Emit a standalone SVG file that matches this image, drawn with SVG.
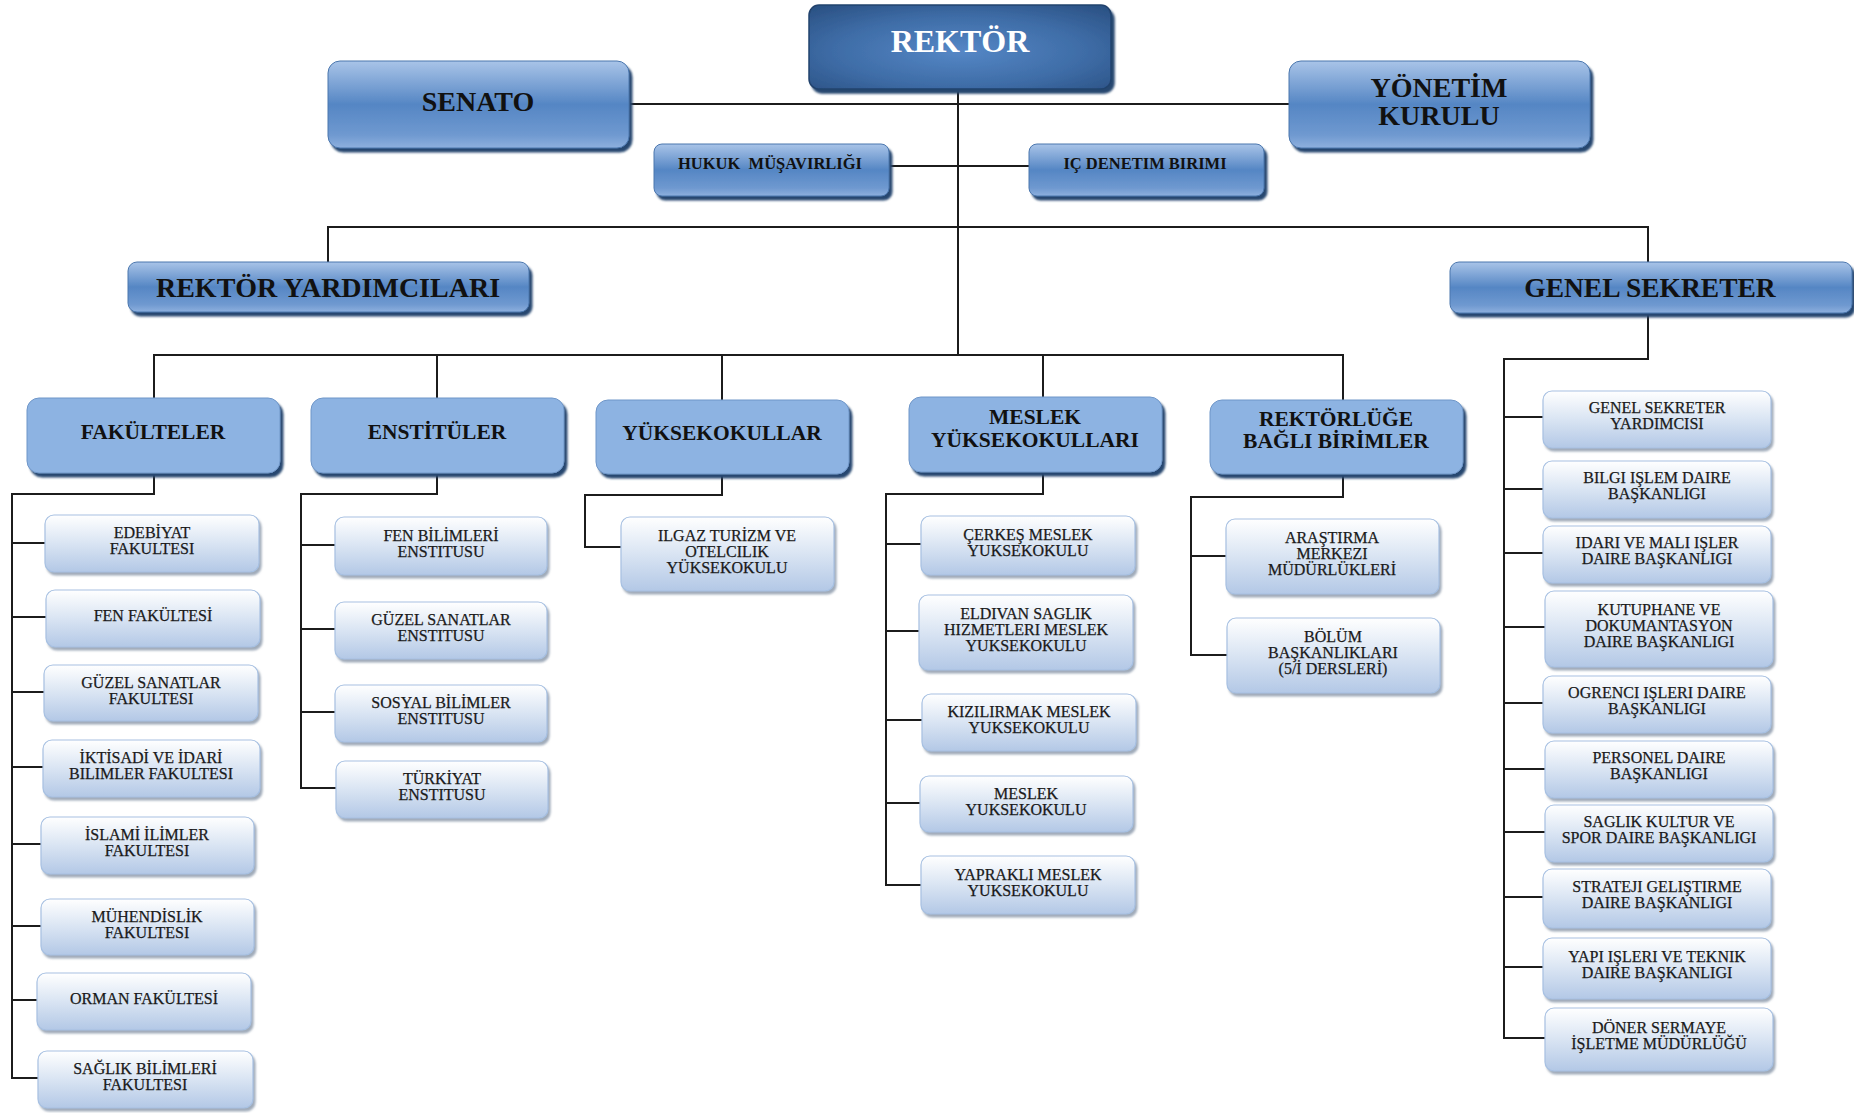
<svg xmlns="http://www.w3.org/2000/svg" width="1854" height="1113" viewBox="0 0 1854 1113">
<defs>
<radialGradient id="gDark" cx="0.5" cy="0.55" r="0.7">
<stop offset="0" stop-color="#5587c6"/>
<stop offset="0.6" stop-color="#3e6ca6"/>
<stop offset="1" stop-color="#2b5285"/>
</radialGradient>
<linearGradient id="gMid" x1="0" y1="0" x2="0" y2="1">
<stop offset="0" stop-color="#a9c4e8"/>
<stop offset="0.5" stop-color="#5586c4"/>
<stop offset="0.85" stop-color="#6f99d0"/>
<stop offset="1" stop-color="#8eb0de"/>
</linearGradient>
<linearGradient id="gLeaf" x1="0" y1="0" x2="0" y2="1">
<stop offset="0" stop-color="#ffffff"/>
<stop offset="0.45" stop-color="#dde7f4"/>
<stop offset="1" stop-color="#b3c8e6"/>
</linearGradient>
<filter id="shDark" x="-10%" y="-10%" width="120%" height="130%">
<feDropShadow dx="3" dy="4" stdDeviation="1" flood-color="#27466f" flood-opacity="1"/>
</filter>
<filter id="shLeaf" x="-10%" y="-10%" width="120%" height="130%">
<feDropShadow dx="2" dy="3" stdDeviation="1.2" flood-color="#8795a8" flood-opacity="0.8"/>
</filter>
</defs>
<style>
.conn{stroke:#1c1c1c;stroke-width:2;fill:none}
.dark rect{fill:url(#gDark);stroke:#22436d;stroke-width:1.5;filter:url(#shDark)}
.mid rect{fill:url(#gMid);stroke:#4a76ad;stroke-width:1;filter:url(#shDark)}
.head rect{fill:#8db3e2;stroke:#6f96c8;stroke-width:1;filter:url(#shDark)}
.leaf rect{fill:url(#gLeaf);stroke:#a7c0e2;stroke-width:1.2;filter:url(#shLeaf)}
text{font-family:"Liberation Serif","Times New Roman",serif;text-anchor:middle}
.dark text{fill:#ffffff;font-weight:bold;font-size:32px}
.mid text{fill:#111;font-weight:bold}
.head text{fill:#111;font-weight:bold;font-size:21.5px}
.leaf text{fill:#1a1a1a;stroke:#1a1a1a;stroke-width:0.25;font-size:16px}
.pre{white-space:pre}
</style>
<rect width="1854" height="1113" fill="#ffffff"/>
<g id="connectors">
<path class="conn" d="M629 104H1289"/>
<path class="conn" d="M958 89V355"/>
<path class="conn" d="M889 166H1029"/>
<path class="conn" d="M328 262V227H1648V262"/>
<path class="conn" d="M154 398V355H1343V400"/>
<path class="conn" d="M437 355V398M722 355V400M1043 355V397"/>
<path class="conn" d="M154 473V494H12V1078H38M12 543H45M12 617H46M12 692H44M12 767H43M12 844H41M12 926H41M12 1000H37"/>
<path class="conn" d="M437 473V494H301V788H336M301 545H335M301 629H335M301 712H335"/>
<path class="conn" d="M722 474V495H585V547H621"/>
<path class="conn" d="M1043 472V494H886V885H921M886 544H921M886 631H919M886 720H922M886 803H920"/>
<path class="conn" d="M1343 474V497H1191V655H1227M1191 556H1226"/>
<path class="conn" d="M1648 313V359H1504V1038H1545M1504 417H1543M1504 489H1543M1504 553H1543M1504 627H1545M1504 703H1543M1504 769H1545M1504 832H1545M1504 897H1543M1504 967H1543"/>
</g>
<g id="rektor" class="dark"><rect x="809" y="5" width="302" height="84" rx="10"/><text x="960" y="52">REKTÖR</text></g>
<g id="senato" class="mid"><rect x="328" y="61" width="301" height="87" rx="12"/><text x="478" y="111" font-size="28">SENATO</text></g>
<g id="yonetim" class="mid"><rect x="1289" y="61" width="301" height="87" rx="12"/><text x="1439" y="97" font-size="28">YÖNETİM</text><text x="1439" y="125" font-size="28">KURULU</text></g>
<g id="hukuk" class="mid"><rect x="654" y="144" width="235" height="52" rx="8"/><text class="pre" x="770" y="169" font-size="16.5">HUKUK  MÜŞAVIRLIĞI</text></g>
<g id="icdenetim" class="mid"><rect x="1029" y="144" width="235" height="52" rx="8"/><text x="1145" y="169" font-size="16.5">IÇ DENETIM BIRIMI</text></g>
<g id="rektor-yardimcilari" class="mid"><rect x="128" y="262" width="401" height="50" rx="9"/><text x="328" y="297" font-size="28">REKTÖR YARDIMCILARI</text></g>
<g id="genel-sekreter" class="mid"><rect x="1450" y="262" width="402" height="51" rx="9"/><text x="1650" y="297" font-size="27.5">GENEL SEKRETER</text></g>
<g id="fakulteler" class="head"><rect x="27" y="398" width="253" height="75" rx="12"/><text x="153" y="439">FAKÜLTELER</text></g>
<g id="enstituler" class="head"><rect x="311" y="398" width="253" height="75" rx="12"/><text x="437" y="439">ENSTİTÜLER</text></g>
<g id="yuksekokullar" class="head"><rect x="596" y="400" width="253" height="74" rx="12"/><text x="722" y="440">YÜKSEKOKULLAR</text></g>
<g id="meslek-yuksekokullari" class="head"><rect x="909" y="397" width="253" height="75" rx="12"/><text x="1035" y="424">MESLEK</text><text x="1035" y="447">YÜKSEKOKULLARI</text></g>
<g id="rektorluge-bagli" class="head"><rect x="1210" y="400" width="253" height="74" rx="12"/><text x="1336" y="426">REKTÖRLÜĞE</text><text x="1336" y="448">BAĞLI BİRİMLER</text></g>
<g id="f1" class="leaf"><rect x="45" y="515" width="214" height="57" rx="9"/><text x="152" y="538">EDEBİYAT</text><text x="152" y="554">FAKULTESI</text></g>
<g id="f2" class="leaf"><rect x="46" y="590" width="214" height="57" rx="9"/><text x="153" y="621">FEN FAKÜLTESİ</text></g>
<g id="f3" class="leaf"><rect x="44" y="665" width="214" height="56" rx="9"/><text x="151" y="688">GÜZEL SANATLAR</text><text x="151" y="704">FAKULTESI</text></g>
<g id="f4" class="leaf"><rect x="43" y="740" width="217" height="57" rx="9"/><text x="151" y="763">İKTİSADİ VE İDARİ</text><text x="151" y="779">BILIMLER FAKULTESI</text></g>
<g id="f5" class="leaf"><rect x="41" y="817" width="213" height="57" rx="9"/><text x="147" y="840">İSLAMİ İLİMLER</text><text x="147" y="856">FAKULTESI</text></g>
<g id="f6" class="leaf"><rect x="41" y="899" width="213" height="56" rx="9"/><text x="147" y="922">MÜHENDİSLİK</text><text x="147" y="938">FAKULTESI</text></g>
<g id="f7" class="leaf"><rect x="37" y="973" width="214" height="57" rx="9"/><text x="144" y="1004">ORMAN FAKÜLTESİ</text></g>
<g id="f8" class="leaf"><rect x="38" y="1051" width="215" height="57" rx="9"/><text x="145" y="1074">SAĞLIK BİLİMLERİ</text><text x="145" y="1090">FAKULTESI</text></g>
<g id="e1" class="leaf"><rect x="335" y="517" width="212" height="58" rx="9"/><text x="441" y="541">FEN BİLİMLERİ</text><text x="441" y="557">ENSTITUSU</text></g>
<g id="e2" class="leaf"><rect x="335" y="602" width="212" height="57" rx="9"/><text x="441" y="625">GÜZEL SANATLAR</text><text x="441" y="641">ENSTITUSU</text></g>
<g id="e3" class="leaf"><rect x="335" y="685" width="212" height="57" rx="9"/><text x="441" y="708">SOSYAL BİLİMLER</text><text x="441" y="724">ENSTITUSU</text></g>
<g id="e4" class="leaf"><rect x="336" y="761" width="212" height="57" rx="9"/><text x="442" y="784">TÜRKİYAT</text><text x="442" y="800">ENSTITUSU</text></g>
<g id="y1" class="leaf"><rect x="621" y="517" width="213" height="74" rx="9"/><text x="727" y="541">ILGAZ TURİZM VE</text><text x="727" y="557">OTELCILIK</text><text x="727" y="573">YÜKSEKOKULU</text></g>
<g id="m1" class="leaf"><rect x="921" y="516" width="214" height="59" rx="9"/><text x="1028" y="540">ÇERKEŞ MESLEK</text><text x="1028" y="556">YUKSEKOKULU</text></g>
<g id="m2" class="leaf"><rect x="919" y="595" width="214" height="75" rx="9"/><text x="1026" y="619">ELDIVAN SAGLIK</text><text x="1026" y="635">HIZMETLERI MESLEK</text><text x="1026" y="651">YUKSEKOKULU</text></g>
<g id="m3" class="leaf"><rect x="922" y="694" width="214" height="57" rx="9"/><text x="1029" y="717">KIZILIRMAK MESLEK</text><text x="1029" y="733">YUKSEKOKULU</text></g>
<g id="m4" class="leaf"><rect x="920" y="776" width="213" height="56" rx="9"/><text x="1026" y="799">MESLEK</text><text x="1026" y="815">YUKSEKOKULU</text></g>
<g id="m5" class="leaf"><rect x="921" y="856" width="214" height="58" rx="9"/><text x="1028" y="880">YAPRAKLI MESLEK</text><text x="1028" y="896">YUKSEKOKULU</text></g>
<g id="r1" class="leaf"><rect x="1226" y="519" width="213" height="75" rx="9"/><text x="1332" y="543">ARAŞTIRMA</text><text x="1332" y="559">MERKEZI</text><text x="1332" y="575">MÜDÜRLÜKLERİ</text></g>
<g id="r2" class="leaf"><rect x="1227" y="618" width="213" height="75" rx="9"/><text x="1333" y="642">BÖLÜM</text><text x="1333" y="658">BAŞKANLIKLARI</text><text x="1333" y="674">(5/İ DERSLERİ)</text></g>
<g id="g1" class="leaf"><rect x="1543" y="391" width="228" height="57" rx="9"/><text x="1657" y="413">GENEL SEKRETER</text><text x="1657" y="429">YARDIMCISI</text></g>
<g id="g2" class="leaf"><rect x="1543" y="461" width="228" height="57" rx="9"/><text x="1657" y="483">BILGI IŞLEM DAIRE</text><text x="1657" y="499">BAŞKANLIGI</text></g>
<g id="g3" class="leaf"><rect x="1543" y="526" width="228" height="57" rx="9"/><text x="1657" y="548">IDARI VE MALI IŞLER</text><text x="1657" y="564">DAIRE BAŞKANLIGI</text></g>
<g id="g4" class="leaf"><rect x="1545" y="591" width="228" height="76" rx="9"/><text x="1659" y="615">KUTUPHANE VE</text><text x="1659" y="631">DOKUMANTASYON</text><text x="1659" y="647">DAIRE BAŞKANLIGI</text></g>
<g id="g5" class="leaf"><rect x="1543" y="676" width="228" height="57" rx="9"/><text x="1657" y="698">OGRENCI IŞLERI DAIRE</text><text x="1657" y="714">BAŞKANLIGI</text></g>
<g id="g6" class="leaf"><rect x="1545" y="741" width="228" height="57" rx="9"/><text x="1659" y="763">PERSONEL DAIRE</text><text x="1659" y="779">BAŞKANLIGI</text></g>
<g id="g7" class="leaf"><rect x="1545" y="805" width="228" height="57" rx="9"/><text x="1659" y="827">SAGLIK KULTUR VE</text><text x="1659" y="843">SPOR DAIRE BAŞKANLIGI</text></g>
<g id="g8" class="leaf"><rect x="1543" y="869" width="228" height="59" rx="9"/><text x="1657" y="892">STRATEJI GELIŞTIRME</text><text x="1657" y="908">DAIRE BAŞKANLIGI</text></g>
<g id="g9" class="leaf"><rect x="1543" y="938" width="228" height="61" rx="9"/><text x="1657" y="962">YAPI IŞLERI VE TEKNIK</text><text x="1657" y="978">DAIRE BAŞKANLIGI</text></g>
<g id="g10" class="leaf"><rect x="1545" y="1008" width="228" height="63" rx="9"/><text x="1659" y="1033">DÖNER SERMAYE</text><text x="1659" y="1049">İŞLETME MÜDÜRLÜĞÜ</text></g>
</svg>
